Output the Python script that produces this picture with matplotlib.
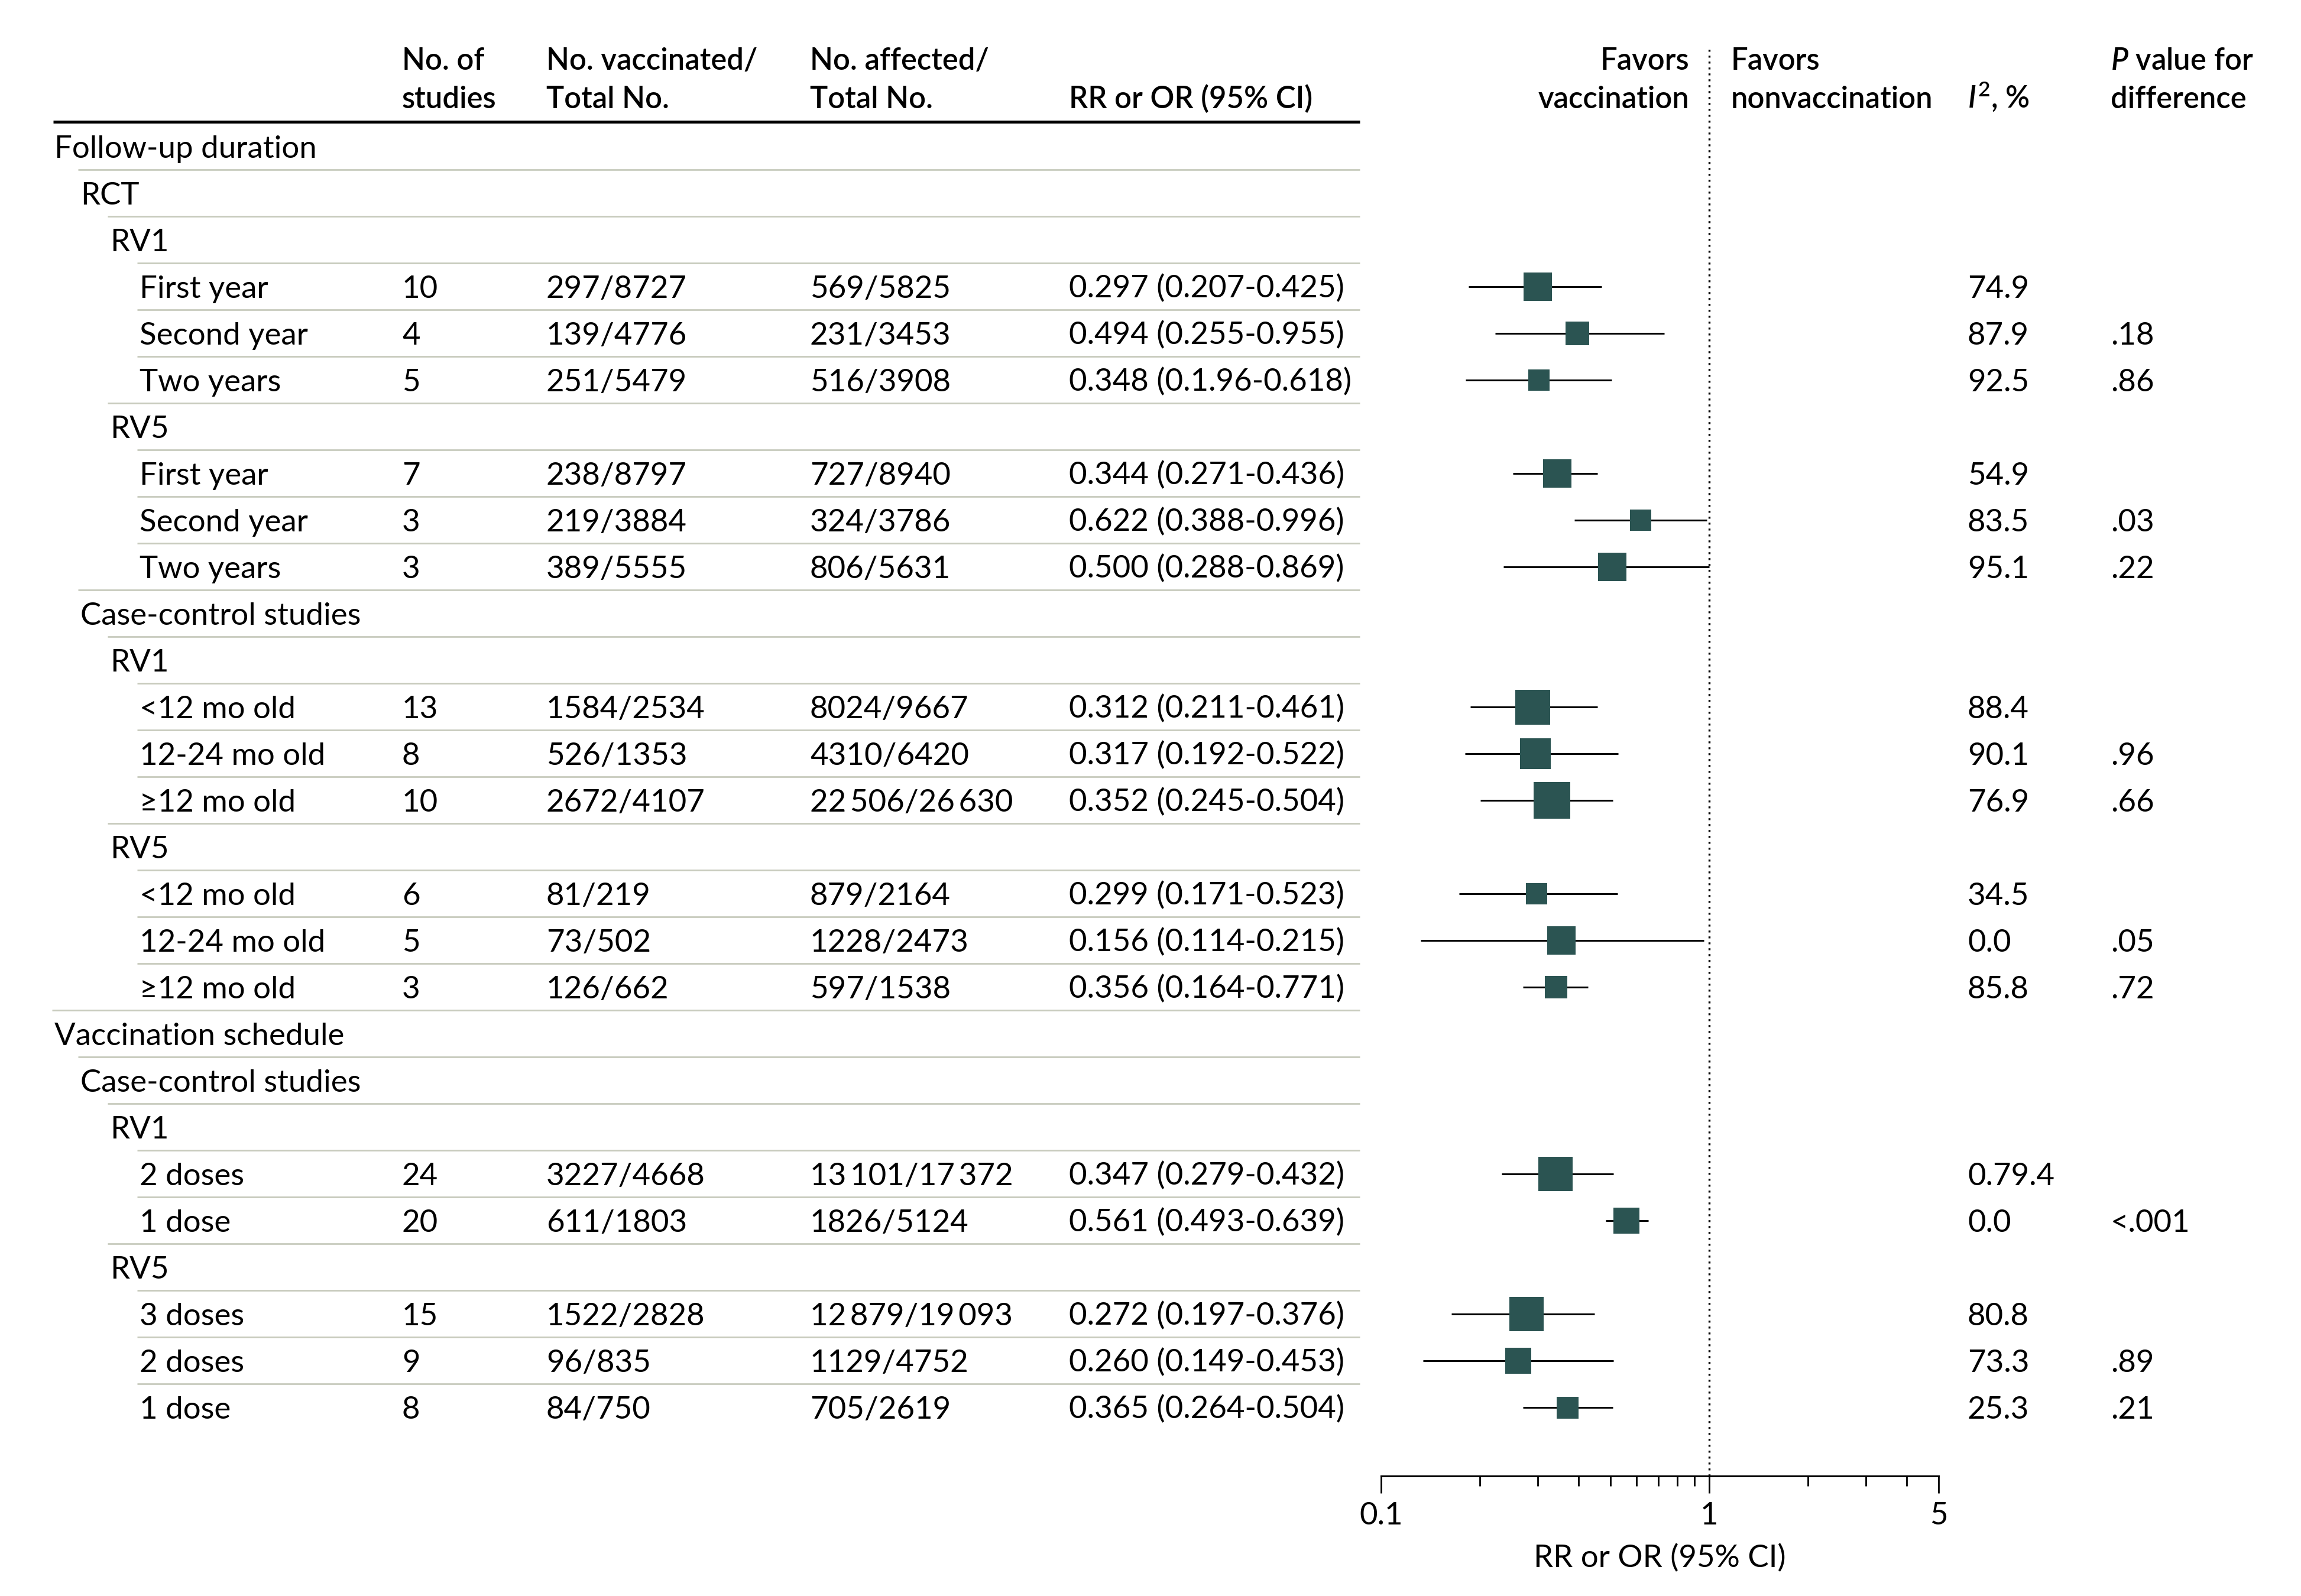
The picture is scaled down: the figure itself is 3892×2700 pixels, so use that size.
import matplotlib
matplotlib.use("Agg")
import matplotlib.pyplot as plt
from matplotlib import font_manager

# ---------------- data ----------------
row_labels = ["Follow-up duration", "RCT", "RV1", "First year", "Second year", "Two years",
              "RV5", "First year", "Second year", "Two years",
              "Case-control studies", "RV1", "<12 mo old", "12-24 mo old", "≥12 mo old",
              "RV5", "<12 mo old", "12-24 mo old", "≥12 mo old",
              "Vaccination schedule", "Case-control studies", "RV1", "2 doses", "1 dose",
              "RV5", "3 doses", "2 doses", "1 dose"]
row_levels = [0, 1, 2, 3, 3, 3, 2, 3, 3, 3, 1, 2, 3, 3, 3, 2, 3, 3, 3, 0, 1, 2, 3, 3, 2, 3, 3, 3]

n_studies = [None, None, None, "10", "4", "5", None, "7", "3", "3", None, None, "13", "8", "10",
             None, "6", "5", "3", None, None, None, "24", "20", None, "15", "9", "8"]
vaccinated = [None, None, None, "297/8727", "139/4776", "251/5479", None, "238/8797", "219/3884",
              "389/5555", None, None, "1584/2534", "526/1353", "2672/4107", None, "81/219",
              "73/502", "126/662", None, None, None, "3227/4668", "611/1803", None, "1522/2828",
              "96/835", "84/750"]
affected = [None, None, None, "569/5825", "231/3453", "516/3908", None, "727/8940", "324/3786",
            "806/5631", None, None, "8024/9667", "4310/6420", "22\u2009506/26\u2009630", None,
            "879/2164", "1228/2473", "597/1538", None, None, None, "13\u2009101/17\u2009372",
            "1826/5124", None, "12\u2009879/19\u2009093", "1129/4752", "705/2619"]
rr_text = [None, None, None, "0.297 (0.207-0.425)", "0.494 (0.255-0.955)", "0.348 (0.1.96-0.618)",
           None, "0.344 (0.271-0.436)", "0.622 (0.388-0.996)", "0.500 (0.288-0.869)", None, None,
           "0.312 (0.211-0.461)", "0.317 (0.192-0.522)", "0.352 (0.245-0.504)", None,
           "0.299 (0.171-0.523)", "0.156 (0.114-0.215)", "0.356 (0.164-0.771)", None, None, None,
           "0.347 (0.279-0.432)", "0.561 (0.493-0.639)", None, "0.272 (0.197-0.376)",
           "0.260 (0.149-0.453)", "0.365 (0.264-0.504)"]
i2_text = [None, None, None, "74.9", "87.9", "92.5", None, "54.9", "83.5", "95.1", None, None,
           "88.4", "90.1", "76.9", None, "34.5", "0.0", "85.8", None, None, None, "0.79.4", "0.0",
           None, "80.8", "73.3", "25.3"]
p_text = [None, None, None, "", ".18", ".86", None, "", ".03", ".22", None, None, "", ".96", ".66",
          None, "", ".05", ".72", None, None, None, "", "<.001", None, "", ".89", ".21"]

# plotted estimates and CI as drawn in the figure (one per study row, top to bottom)
est = [0.300, 0.397, 0.303, 0.344, 0.619, 0.506, 0.289, 0.295, 0.331, 0.298, 0.355, 0.342,
       0.340, 0.560, 0.277, 0.262, 0.370]
ci_low = [0.185, 0.223, 0.181, 0.252, 0.389, 0.236, 0.187, 0.180, 0.201, 0.173, 0.132, 0.271,
          0.233, 0.484, 0.164, 0.134, 0.271]
ci_high = [0.469, 0.728, 0.505, 0.456, 0.985, 1.000, 0.456, 0.527, 0.509, 0.526, 0.962, 0.428,
           0.511, 0.651, 0.447, 0.511, 0.509]

major_ticks = [0.1, 1, 5]
major_tick_labels = ["0.1", "1", "5"]
minor_ticks = [0.2, 0.3, 0.4, 0.5, 0.6, 0.7, 0.8, 0.9, 2, 3, 4]

# ---------------- styling / layout ----------------
box_px = [47.7, 40, 36.5, 47.3, 36, 47.3, 59, 52, 61.5, 36.5, 47.7, 37.3, 58, 44.6, 58.5, 44.6, 37]

avail = {f.name for f in font_manager.fontManager.ttflist}
main_font = "Lato" if "Lato" in avail else "DejaVu Sans"
plt.rcParams["font.family"] = [main_font, "DejaVu Sans"]
plt.rcParams["mathtext.fontset"] = "custom"
plt.rcParams["mathtext.it"] = f"{main_font}:italic:semibold"
plt.rcParams["mathtext.rm"] = f"{main_font}:semibold"

FS = 38
FS_H = 36.5
W, H = 3892, 2700
ROW0, ROWH = 247.6, 79.0
BASE_OFF = 19
indent_x = [92, 136, 186, 236]
col_n, col_vac, col_aff, col_rr = 680, 924, 1370, 1808
col_i2, col_p = 3328, 3570
table_right = 2300
teal = "#2b5452"
sep_color = "#c8cbbd"
hdr_w = "semibold"

fig = plt.figure(figsize=(W / 100, H / 100), dpi=100)
bg = fig.add_axes([0, 0, 1, 1])
bg.set_xlim(0, W)
bg.set_ylim(H, 0)
bg.axis("off")


def row_y(i):
    return ROW0 + ROWH * i


# header
hb1, hb2 = 118, 183
hdr = [(col_n, "No. of", "studies"), (col_vac, "No. vaccinated/", "Total No."),
       (col_aff, "No. affected/", "Total No."), (col_rr, "", "RR or OR (95% CI)")]
for x, t1, t2 in hdr:
    bg.text(x, hb1, t1, fontsize=FS_H, fontweight=hdr_w, va="baseline", ha="left")
    bg.text(x, hb2, t2, fontsize=FS_H, fontweight=hdr_w, va="baseline", ha="left")
bg.text(2857, hb1, "Favors", fontsize=FS_H, fontweight=hdr_w, va="baseline", ha="right")
bg.text(2857, hb2, "vaccination", fontsize=FS_H, fontweight=hdr_w, va="baseline", ha="right")
bg.text(2928, hb1, "Favors", fontsize=FS_H, fontweight=hdr_w, va="baseline", ha="left")
bg.text(2928, hb2, "nonvaccination", fontsize=FS_H, fontweight=hdr_w, va="baseline", ha="left")
bg.text(col_i2, hb2, r"$I^2$, %", fontsize=FS_H, fontweight=hdr_w, va="baseline", ha="left")
bg.text(col_p, hb1, r"$P$ value for", fontsize=FS_H, fontweight=hdr_w, va="baseline", ha="left")
bg.text(col_p, hb2, "difference", fontsize=FS_H, fontweight=hdr_w, va="baseline", ha="left")

bg.plot([90, table_right], [206, 206], color="black", lw=3.6, solid_capstyle="butt")

nrows = len(row_labels)
for i in range(nrows):
    yb = row_y(i) + BASE_OFF
    bg.text(indent_x[row_levels[i]], yb, row_labels[i], fontsize=FS, va="baseline", ha="left")
    for col, arr in ((col_n, n_studies), (col_vac, vaccinated), (col_aff, affected),
                     (col_rr, rr_text), (col_i2, i2_text), (col_p, p_text)):
        if arr[i]:
            bg.text(col, yb, arr[i], fontsize=FS, va="baseline", ha="left")
    if i < nrows - 1:
        ys = row_y(i) + ROWH / 2
        bg.plot([indent_x[row_levels[i + 1]] - 4, table_right], [ys, ys], color=sep_color,
                lw=2.0, solid_capstyle="butt")

# forest plot axes
x0_px, x1_px, axis_y_px = 2336, 3279, 2497
ax = fig.add_axes([x0_px / W, 1 - axis_y_px / H, (x1_px - x0_px) / W, axis_y_px / H])
ax.patch.set_alpha(0)
ax.set_xscale("log")
ax.set_xlim(0.1, 5)
ax.set_ylim((axis_y_px - ROW0) / ROWH, (0 - ROW0) / ROWH)
for s in ("left", "top", "right"):
    ax.spines[s].set_visible(False)
ax.spines["bottom"].set_linewidth(2.2)
ax.set_yticks([])
ax.set_xticks(major_ticks)
ax.set_xticklabels(major_tick_labels)
ax.set_xticks(minor_ticks, minor=True)
ax.set_xticklabels([], minor=True)
ax.tick_params(axis="x", which="major", length=21, width=2.0, labelsize=FS, pad=11)
ax.tick_params(axis="x", which="minor", length=12, width=2.0)
ax.set_xlabel("RR or OR (95% CI)", fontsize=FS)
ax.xaxis.set_label_coords(0.5, -(2612 - axis_y_px) / axis_y_px)
ax.xaxis.label.set_va("top")

ax.axvline(1, ymin=0, ymax=(axis_y_px - 80) / axis_y_px, color="black", lw=2.4,
           linestyle=(0, (1, 2)), clip_on=False)

study_rows = [i for i in range(nrows) if n_studies[i] is not None]
for k, i in enumerate(study_rows):
    ax.plot([ci_low[k], ci_high[k]], [i, i], color="black", lw=2.2, solid_capstyle="butt",
            zorder=3, clip_on=False)
    ax.plot([est[k]], [i], marker="s", ms=box_px[k] * 0.72, color=teal, mew=0, zorder=4,
            linestyle="none", clip_on=False)

fig.savefig("out.png", dpi=100, facecolor="white")
